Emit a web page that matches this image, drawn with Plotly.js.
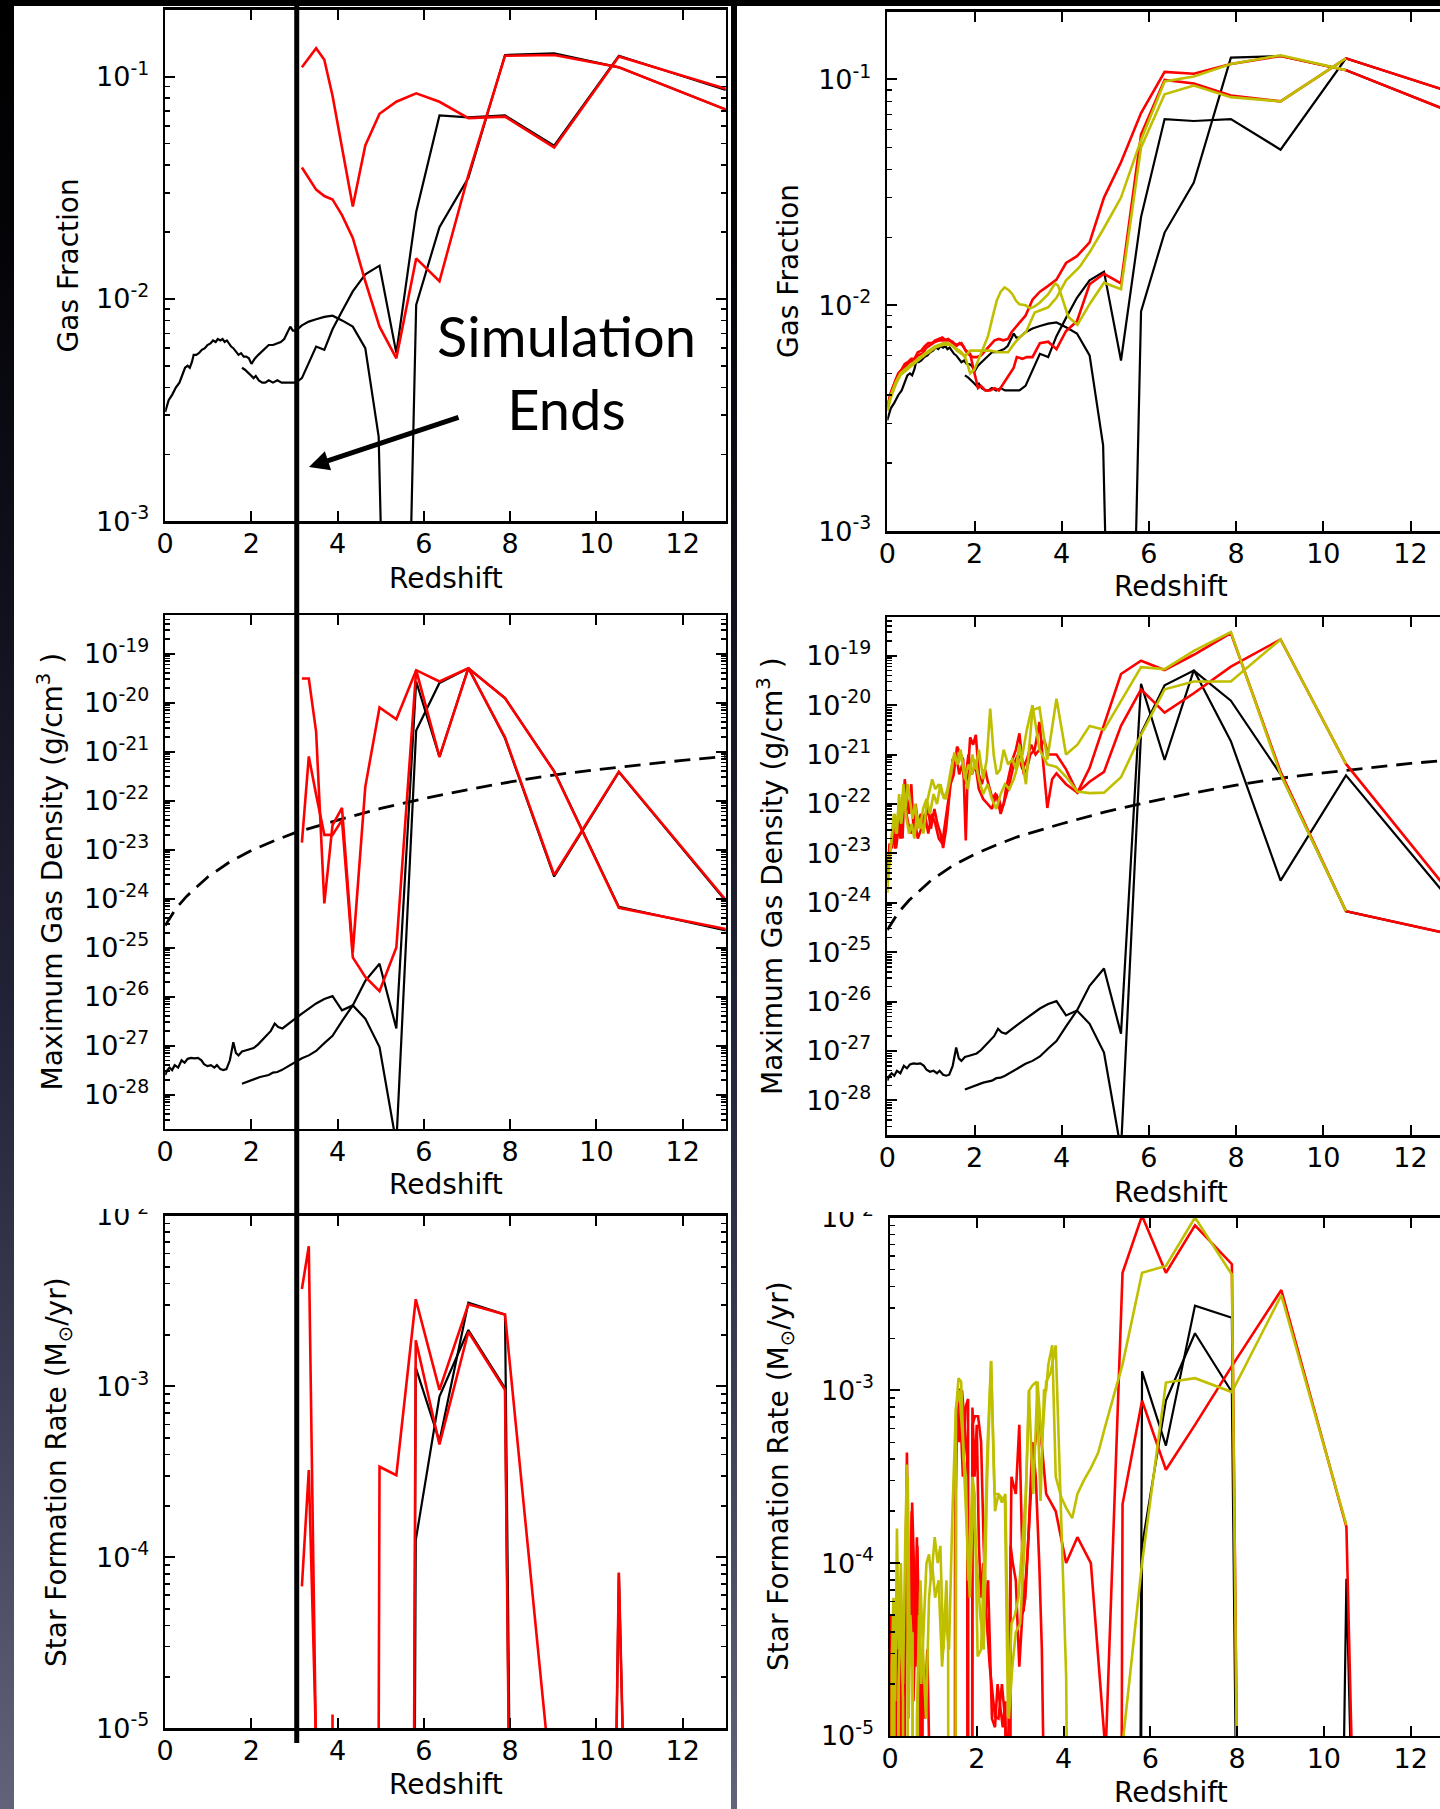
<!DOCTYPE html>
<html>
<head>
<meta charset="utf-8">
<script src="https://cdn.plot.ly/plotly-3.0.1.min.js"></script>
<style>
html,body{margin:0;padding:0;width:1440px;height:1809px;overflow:hidden;}
body{background:linear-gradient(to bottom,#000000 0%,#040408 14%,#12121f 35%,#222236 55%,#3a3a50 75%,#62627a 100%);}
#chart{width:1470px;height:1809px;}
</style>
</head>
<body>
<div id="chart"></div>
<script>
// ---------------- tick label exponents ----------------
const gasTickExp  = [-3, -2, -1];
const densTickExp = [-28, -27, -26, -25, -24, -23, -22, -21, -20, -19];
const sfTickExp   = [-5, -4, -3, -2];
const zTicks      = [0, 2, 4, 6, 8, 10, 12];

// ---------------- Gas fraction (linear values) ----------------
const gasBlackA = [[0,0.0031],[0.08,0.0035],[0.16,0.0037],[0.25,0.0040],[0.33,0.0042],[0.4,0.0046],[0.46,0.0049],[0.52,0.0050],[0.57,0.0049],[0.62,0.0052],[0.66,0.0056],[0.72,0.0056],[0.78,0.0057],[0.85,0.0059],[0.92,0.0060],[0.98,0.0062],[1.05,0.0063],[1.11,0.0065],[1.17,0.0064],[1.22,0.0066],[1.28,0.0065],[1.33,0.0066],[1.38,0.0064],[1.43,0.0065],[1.48,0.0063],[1.53,0.0061],[1.58,0.0060],[1.64,0.0058],[1.7,0.0056],[1.76,0.0057],[1.82,0.0055],[1.88,0.0055],[1.94,0.0054],[2.0,0.0051],[2.08,0.0054],[2.16,0.0056],[2.24,0.0058],[2.32,0.0060],[2.4,0.0062],[2.5,0.0062],[2.6,0.0063],[2.68,0.0064],[2.76,0.0066],[2.83,0.0071],[2.9,0.0075],[2.96,0.0072],[3.03,0.0072],[3.17,0.0076],[3.33,0.0079],[3.5,0.0081],[3.69,0.0083],[3.88,0.0084],[4.1,0.0080],[4.35,0.0075],[4.64,0.0060],[4.95,0.0024],[5.36,0.000001],[5.82,0.0094],[6.36,0.021],[7.03,0.035],[7.88,0.125],[9.02,0.127],[10.52,0.110],[13,0.071]];
const gasBlackB = [[1.78,0.0049],[1.85,0.0048],[1.95,0.0046],[2.05,0.0044],[2.1,0.0045],[2.17,0.0043],[2.25,0.0042],[2.32,0.0042],[2.4,0.0043],[2.5,0.0042],[2.6,0.0043],[2.7,0.0042],[2.8,0.0042],[2.9,0.0042],[3.03,0.0042],[3.17,0.0044],[3.33,0.0052],[3.5,0.0061],[3.69,0.0059],[3.88,0.0073],[4.1,0.0088],[4.35,0.0108],[4.64,0.0129],[4.97,0.0141],[5.36,0.0057],[5.82,0.0246],[6.36,0.0668],[7.03,0.0655],[7.88,0.0668],[9.02,0.0489],[10.52,0.124],[13,0.087]];
const gasRedL1 = [[3.17,0.110],[3.5,0.134],[3.69,0.119],[3.88,0.082],[4.35,0.026],[4.64,0.049],[4.97,0.068],[5.36,0.077],[5.82,0.084],[6.36,0.077],[7.03,0.065],[7.88,0.066],[9.02,0.048],[10.52,0.123],[13,0.088]];
const gasRedL2 = [[3.17,0.039],[3.33,0.035],[3.5,0.031],[3.69,0.029],[3.88,0.028],[4.1,0.0238],[4.35,0.0188],[4.64,0.012],[4.97,0.0075],[5.36,0.0054],[5.82,0.0152],[6.36,0.012],[7.03,0.036],[7.88,0.124],[9.02,0.125],[10.52,0.110],[13,0.071]];
const gasRedR1 = [[0,0.0035],[0.08,0.0041],[0.16,0.0045],[0.25,0.0050],[0.33,0.0052],[0.4,0.0055],[0.47,0.0056],[0.55,0.0058],[0.62,0.0058],[0.7,0.0062],[0.78,0.0063],[0.86,0.0066],[0.94,0.0068],[1.02,0.0068],[1.1,0.0070],[1.18,0.0071],[1.26,0.0072],[1.34,0.0070],[1.42,0.0070],[1.5,0.0069],[1.58,0.0066],[1.66,0.0068],[1.74,0.0066],[1.82,0.0062],[1.9,0.0060],[1.97,0.0059],[2.05,0.0059],[2.15,0.0060],[2.25,0.0063],[2.36,0.0066],[2.46,0.0070],[2.56,0.0071],[2.66,0.0070],[2.77,0.0071],[2.85,0.0076],[2.92,0.0079],[3.03,0.0084],[3.17,0.0090],[3.33,0.0106],[3.5,0.0115],[3.69,0.0122],[3.88,0.0130],[4.1,0.0154],[4.35,0.0165],[4.64,0.019],[4.97,0.030],[5.36,0.043],[5.82,0.071],[6.36,0.108],[7.03,0.106],[7.88,0.117],[9.02,0.127],[10.52,0.110],[13,0.071]];
const gasRedR2 = [[0,0.0036],[0.1,0.0042],[0.2,0.0047],[0.3,0.0051],[0.4,0.0053],[0.5,0.0056],[0.6,0.0057],[0.7,0.0060],[0.8,0.0061],[0.9,0.0065],[1.0,0.0067],[1.1,0.0069],[1.2,0.0070],[1.3,0.0070],[1.4,0.0071],[1.5,0.0068],[1.6,0.0067],[1.7,0.0068],[1.8,0.0063],[1.9,0.0061],[2.0,0.0050],[2.08,0.0043],[2.15,0.0044],[2.25,0.0042],[2.36,0.0042],[2.46,0.0043],[2.56,0.0042],[2.66,0.0045],[2.77,0.0048],[2.9,0.0053],[2.97,0.0059],[3.1,0.0058],[3.2,0.0059],[3.33,0.0059],[3.5,0.0068],[3.69,0.0069],[3.88,0.0064],[4.1,0.0077],[4.35,0.0085],[4.64,0.0124],[4.97,0.0138],[5.36,0.0125],[5.82,0.057],[6.36,0.0996],[7.03,0.096],[7.88,0.085],[9.02,0.080],[10.52,0.124],[13,0.087]];
const gasYelY1 = [[0,0.0035],[0.1,0.0041],[0.2,0.0046],[0.3,0.0050],[0.4,0.0052],[0.5,0.0054],[0.6,0.0056],[0.7,0.0058],[0.8,0.0060],[0.9,0.0062],[1.0,0.0064],[1.1,0.0066],[1.2,0.0067],[1.3,0.0068],[1.4,0.0068],[1.5,0.0066],[1.6,0.0064],[1.7,0.0062],[1.8,0.0058],[1.9,0.0050],[2.0,0.0052],[2.1,0.0058],[2.2,0.0065],[2.31,0.0073],[2.41,0.0088],[2.51,0.0105],[2.6,0.0115],[2.69,0.0120],[2.78,0.0117],[2.87,0.0112],[2.95,0.0105],[3.03,0.0101],[3.17,0.0100],[3.28,0.0097],[3.38,0.0099],[3.5,0.0103],[3.69,0.0112],[3.85,0.0125],[3.92,0.0122],[4.15,0.0089],[4.36,0.0082],[4.65,0.0102],[4.97,0.0126],[5.36,0.0118],[5.82,0.050],[6.36,0.086],[7.03,0.094],[7.88,0.0835],[9.02,0.080],[10.52,0.124]];
const gasYelY2 = [[0,0.0034],[0.1,0.0040],[0.2,0.0045],[0.3,0.0049],[0.4,0.0051],[0.5,0.0053],[0.6,0.0055],[0.7,0.0057],[0.8,0.0059],[0.9,0.0061],[1.0,0.0063],[1.1,0.0065],[1.2,0.0066],[1.3,0.0067],[1.4,0.0067],[1.5,0.0066],[1.6,0.0063],[1.7,0.0061],[1.8,0.0060],[1.9,0.0063],[2.1,0.0063],[2.36,0.0063],[2.55,0.0062],[2.77,0.0062],[2.92,0.0068],[3.03,0.0072],[3.18,0.0076],[3.38,0.0093],[3.69,0.0098],[3.88,0.0108],[4.1,0.0129],[4.41,0.0148],[4.65,0.0173],[4.97,0.022],[5.36,0.030],[5.82,0.054],[6.36,0.098],[7.03,0.103],[7.88,0.117],[9.02,0.128],[10.52,0.110]];

// ---------------- Maximum gas density (log10 g/cm^3) ----------------
const densBlackA = [[0,-27.6],[0.05,-27.5],[0.1,-27.45],[0.16,-27.5],[0.22,-27.4],[0.3,-27.45],[0.38,-27.3],[0.45,-27.35],[0.52,-27.27],[0.6,-27.25],[0.68,-27.26],[0.76,-27.25],[0.84,-27.3],[0.9,-27.38],[0.98,-27.42],[1.06,-27.4],[1.14,-27.45],[1.2,-27.4],[1.28,-27.48],[1.35,-27.5],[1.42,-27.48],[1.5,-27.3],[1.58,-26.93],[1.64,-27.15],[1.7,-27.2],[1.78,-27.12],[1.86,-27.1],[1.95,-27.07],[2.05,-27.05],[2.15,-26.98],[2.25,-26.88],[2.35,-26.8],[2.45,-26.7],[2.54,-26.55],[2.62,-26.62],[2.72,-26.65],[2.82,-26.58],[2.92,-26.5],[3.03,-26.44],[3.17,-26.35],[3.33,-26.25],[3.5,-26.14],[3.69,-26.05],[3.88,-25.99],[4.1,-26.28],[4.35,-26.18],[4.64,-26.45],[4.97,-27.03],[5.36,-29.0],[5.82,-20.57],[6.36,-19.6],[7.03,-19.3],[7.88,-19.91],[9.02,-21.4],[10.52,-24.17],[13,-24.65]];
const densBlackB = [[1.78,-27.78],[1.9,-27.74],[2.0,-27.7],[2.1,-27.68],[2.2,-27.64],[2.3,-27.62],[2.4,-27.6],[2.5,-27.55],[2.6,-27.54],[2.7,-27.5],[2.8,-27.45],[2.9,-27.4],[3.03,-27.34],[3.17,-27.26],[3.33,-27.2],[3.5,-27.11],[3.69,-26.95],[3.88,-26.8],[4.1,-26.5],[4.35,-26.18],[4.64,-25.68],[4.97,-25.33],[5.36,-26.65],[5.82,-19.57],[6.36,-21.11],[7.03,-19.29],[7.88,-20.73],[9.02,-23.55],[10.52,-21.42],[13,-24.05]];
const densDashed = [[0,-24.55],[0.25,-24.2],[0.5,-23.95],[1,-23.55],[1.5,-23.25],[2,-23.02],[2.5,-22.83],[3,-22.66],[4,-22.4],[5,-22.16],[6,-21.96],[7,-21.78],[8,-21.62],[9,-21.48],[10,-21.37],[11,-21.27],[12,-21.18],[13,-21.1]];
const densRedD1 = [[3.17,-19.51],[3.33,-19.51],[3.5,-20.6],[3.69,-24.1],[3.88,-22.5],[4.1,-22.15],[4.35,-25.1],[4.64,-21.72],[4.97,-20.1],[5.36,-20.34],[5.82,-19.34],[6.36,-19.57],[7.03,-19.3],[7.88,-19.91],[9.02,-21.41],[10.52,-24.19],[13,-24.62]];
const densRedD2 = [[3.17,-22.86],[3.33,-21.1],[3.5,-21.88],[3.69,-22.7],[3.88,-22.7],[4.1,-22.4],[4.35,-25.2],[4.64,-25.6],[4.97,-25.89],[5.36,-25.0],[5.82,-19.34],[6.36,-21.11],[7.03,-19.3],[7.88,-20.71],[9.02,-23.52],[10.52,-21.41],[13,-24.03]];
const densRedRD1 = [[0,-23.5],[0.05,-22.8],[0.1,-22.9],[0.15,-22.43],[0.2,-22.9],[0.25,-22.6],[0.3,-22.2],[0.35,-22.7],[0.4,-21.5],[0.45,-21.9],[0.5,-22.2],[0.55,-21.6],[0.6,-22.5],[0.65,-22.0],[0.7,-22.43],[0.77,-22.2],[0.84,-22.5],[0.92,-22.04],[1.0,-22.5],[1.08,-22.1],[1.15,-22.4],[1.22,-22.6],[1.28,-22.89],[1.35,-22.5],[1.45,-21.6],[1.52,-21.42],[1.6,-20.84],[1.66,-20.95],[1.74,-21.1],[1.8,-22.74],[1.84,-21.5],[1.9,-20.65],[1.97,-20.8],[2.03,-20.6],[2.1,-21.4],[2.17,-21.6],[2.24,-21.3],[2.32,-21.6],[2.41,-21.89],[2.48,-21.8],[2.56,-21.9],[2.62,-22.1],[2.67,-22.0],[2.72,-21.7],[2.77,-21.5],[2.87,-21.1],[2.95,-20.9],[3.03,-20.57],[3.13,-21.4],[3.2,-21.3],[3.28,-21.0],[3.38,-20.9],[3.49,-20.34],[3.58,-21.2],[3.67,-22.08],[3.78,-21.5],[3.88,-21.38],[4.1,-21.6],[4.36,-21.77],[4.64,-21.27],[4.97,-20.42],[5.36,-19.37],[5.82,-19.1],[6.36,-19.29],[7.03,-18.98],[7.88,-18.54],[9.02,-21.35],[10.52,-24.17],[13,-24.65]];
const densRedRD2 = [[0,-23.6],[0.06,-23.0],[0.12,-22.6],[0.18,-22.9],[0.24,-22.3],[0.3,-22.7],[0.36,-21.8],[0.42,-22.1],[0.48,-22.4],[0.55,-22.6],[0.62,-22.3],[0.7,-22.7],[0.78,-22.5],[0.86,-22.2],[0.94,-22.6],[1.02,-22.2],[1.1,-22.4],[1.18,-22.7],[1.26,-22.8],[1.34,-22.3],[1.42,-21.8],[1.5,-21.1],[1.58,-21.0],[1.65,-21.4],[1.72,-21.2],[1.78,-21.6],[1.86,-21.0],[1.94,-21.4],[2.02,-21.2],[2.1,-21.7],[2.2,-21.9],[2.3,-22.0],[2.4,-22.1],[2.5,-21.8],[2.6,-22.2],[2.7,-21.9],[2.8,-21.6],[2.9,-21.2],[3.0,-21.0],[3.1,-21.3],[3.2,-21.1],[3.3,-20.8],[3.4,-21.0],[3.49,-20.9],[3.6,-20.7],[3.69,-21.0],[3.88,-21.0],[4.1,-21.3],[4.36,-21.77],[4.64,-21.55],[4.97,-21.35],[5.36,-20.42],[5.82,-19.68],[6.36,-20.15],[7.03,-19.76],[7.88,-19.22],[9.02,-18.67],[10.52,-21.19],[13,-23.9]];
const densYelYD1 = [[0,-23.6],[0.04,-23.2],[0.08,-22.8],[0.12,-22.5],[0.17,-22.2],[0.22,-22.6],[0.27,-21.8],[0.32,-22.3],[0.37,-21.6],[0.42,-22.1],[0.47,-21.6],[0.52,-21.9],[0.58,-22.3],[0.64,-22.0],[0.7,-22.5],[0.76,-22.3],[0.83,-22.6],[0.9,-22.0],[0.97,-21.7],[1.03,-21.5],[1.1,-21.7],[1.18,-21.6],[1.26,-21.8],[1.35,-21.9],[1.44,-21.5],[1.54,-20.96],[1.6,-21.2],[1.68,-20.9],[1.75,-21.3],[1.85,-21.7],[1.95,-21.0],[2.03,-21.3],[2.1,-20.9],[2.2,-21.5],[2.28,-21.1],[2.36,-20.07],[2.44,-21.0],[2.51,-21.4],[2.59,-21.3],[2.67,-20.9],[2.77,-21.2],[2.87,-21.1],[2.95,-21.3],[3.03,-20.8],[3.18,-21.6],[3.33,-20.1],[3.49,-20.05],[3.67,-21.1],[3.88,-19.87],[4.1,-21.0],[4.36,-20.8],[4.64,-20.42],[4.97,-20.5],[5.36,-19.92],[5.82,-19.23],[6.36,-19.27],[7.03,-18.9],[7.88,-18.52],[9.02,-21.4],[10.52,-24.17]];
const densYelYD2 = [[0,-23.8],[0.05,-23.1],[0.1,-22.7],[0.15,-22.2],[0.2,-22.6],[0.26,-22.1],[0.32,-22.4],[0.38,-21.9],[0.44,-22.3],[0.5,-22.6],[0.56,-22.4],[0.62,-22.7],[0.68,-22.2],[0.75,-22.5],[0.82,-22.1],[0.9,-21.9],[0.98,-22.2],[1.06,-21.8],[1.14,-22.0],[1.22,-21.6],[1.3,-21.9],[1.38,-21.7],[1.46,-21.3],[1.54,-21.0],[1.62,-21.2],[1.7,-21.0],[1.78,-21.5],[1.86,-21.2],[1.94,-21.4],[2.02,-21.1],[2.1,-21.5],[2.2,-21.8],[2.3,-21.6],[2.4,-21.9],[2.5,-22.1],[2.6,-21.8],[2.7,-21.6],[2.8,-21.7],[2.9,-21.5],[3.0,-21.2],[3.1,-21.0],[3.2,-20.5],[3.33,-20.0],[3.49,-20.9],[3.67,-21.2],[3.88,-21.25],[4.1,-21.45],[4.36,-21.75],[4.64,-21.78],[4.97,-21.77],[5.36,-21.46],[5.82,-20.6],[6.36,-19.68],[7.03,-19.52],[7.88,-19.52],[9.02,-18.67],[10.52,-21.19]];

// ---------------- Star formation rate (log10 Msun/yr; -30 = none) ----------------
const sfBlackK1 = [[5.36,-30],[5.81,-2.89],[6.36,-3.32],[7.03,-2.51],[7.88,-2.58],[9.02,-30],[13,-30]];
const sfBlackK2 = [[5.36,-30],[5.81,-3.9],[6.36,-3.06],[7.03,-2.67],[7.88,-3.01],[9.02,-30],[10.52,-4.09],[13,-30]];
const sfRedS1 = [[3.17,-2.43],[3.33,-2.18],[3.5,-5.18],[3.69,-30],[4.64,-30],[4.97,-3.47],[5.36,-3.52],[5.81,-2.49],[6.36,-3.02],[7.03,-2.52],[7.88,-2.58],[9.02,-5.5],[10.52,-30],[13,-30]];
const sfRedS2 = [[3.17,-4.17],[3.33,-3.49],[3.5,-5.1],[3.69,-30],[3.88,-4.92],[4.1,-30],[5.36,-30],[5.81,-2.73],[6.36,-3.34],[7.03,-2.68],[7.88,-3.02],[9.02,-30],[10.52,-4.09],[13,-30]];
const sfRedRSa = [[0,-30],[0.04,-4.4],[0.08,-4.9],[0.12,-4.3],[0.16,-4.2],[0.2,-4.8],[0.24,-5.2],[0.28,-4.3],[0.32,-4.7],[0.36,-4.1],[0.39,-3.36],[0.43,-4.3],[0.47,-4.6],[0.51,-3.65],[0.55,-4.0],[0.59,-4.6],[0.63,-3.9],[0.67,-4.4],[0.71,-5.0],[0.75,-4.6],[0.8,-4.9],[0.86,-4.5],[0.92,-5.3],[1.0,-30],[1.45,-30],[1.52,-3.2],[1.6,-2.99],[1.68,-3.5],[1.74,-3.1],[1.8,-3.05],[1.84,-30],[1.9,-3.2],[1.96,-3.15],[2.03,-3.15],[2.1,-3.3],[2.16,-3.9],[2.22,-4.3],[2.3,-4.6],[2.42,-4.89],[2.5,-4.9],[2.58,-4.7],[2.65,-4.9],[2.72,-5.2],[2.8,-3.5],[2.9,-3.6],[2.98,-3.2],[3.08,-4.28],[3.18,-3.9],[3.29,-3.4],[3.44,-3.15],[3.6,-3.6],[3.82,-3.7],[4.06,-4.0],[4.32,-3.85],[4.63,-4.0],[4.97,-5.1],[5.36,-2.32],[5.81,-1.99],[6.36,-2.32],[7.03,-2.045],[7.88,-2.27],[9.02,-30],[13,-30]];
const sfRedRSb = [[0.02,-4.3],[0.06,-30],[0.1,-4.6],[0.14,-4.4],[0.18,-30],[0.22,-4.7],[0.26,-4.5],[0.3,-30],[0.34,-4.9],[0.38,-3.6],[0.42,-4.5],[0.46,-4.2],[0.5,-3.7],[0.54,-4.8],[0.58,-4.4],[0.62,-3.85],[0.66,-4.6],[0.7,-5.2],[0.75,-4.7],[0.8,-30],[0.9,-5.1],[1.0,-30],[1.45,-30],[1.5,-3.8],[1.55,-3.1],[1.6,-3.3],[1.66,-3.0],[1.72,-3.2],[1.78,-3.4],[1.84,-30],[1.9,-3.1],[1.95,-3.5],[2.0,-3.2],[2.05,-3.9],[2.1,-4.2],[2.15,-4.0],[2.2,-4.3],[2.26,-4.1],[2.35,-4.9],[2.42,-4.95],[2.48,-4.7],[2.55,-4.85],[2.6,-4.95],[2.66,-4.8],[2.72,-30],[2.78,-3.9],[2.83,-4.0],[2.9,-4.1],[2.98,-4.6],[3.05,-4.3],[3.12,-4.2],[3.2,-3.8],[3.28,-3.3],[3.36,-3.5],[3.44,-4.0],[3.5,-4.5],[3.6,-30],[5.0,-30],[5.36,-3.66],[5.81,-3.06],[6.36,-3.46],[7.03,-3.2],[7.88,-2.86],[9.02,-2.42],[10.52,-3.79],[13,-30]];
const sfYelYSa = [[0,-30],[0.04,-4.6],[0.08,-4.2],[0.12,-4.8],[0.16,-3.8],[0.2,-4.5],[0.25,-4.0],[0.3,-4.7],[0.35,-3.9],[0.39,-3.43],[0.43,-4.9],[0.47,-4.3],[0.52,-4.6],[0.57,-30],[0.62,-4.9],[0.67,-4.3],[0.72,-4.7],[0.78,-4.3],[0.84,-4.0],[0.9,-3.95],[0.95,-4.1],[1.03,-3.85],[1.1,-4.0],[1.16,-3.9],[1.23,-4.5],[1.3,-4.1],[1.34,-4.5],[1.42,-30],[1.52,-3.12],[1.58,-2.93],[1.64,-2.95],[1.7,-3.39],[1.75,-3.5],[1.8,-4.1],[1.85,-3.9],[1.9,-3.5],[1.95,-3.6],[2.02,-4.54],[2.1,-4.5],[2.18,-3.9],[2.25,-3.3],[2.33,-2.83],[2.41,-3.6],[2.5,-3.6],[2.57,-3.62],[2.65,-3.65],[2.72,-4.89],[2.8,-4.35],[2.88,-4.3],[2.96,-4.2],[3.03,-3.95],[3.13,-3.6],[3.21,-3.0],[3.29,-2.97],[3.38,-2.95],[3.47,-3.64],[3.55,-3.0],[3.6,-3.0],[3.65,-2.85],[3.74,-2.74],[3.82,-3.5],[3.95,-3.62],[4.06,-3.68],[4.2,-3.74],[4.32,-3.6],[4.47,-3.52],[4.63,-3.45],[4.8,-3.36],[4.97,-3.2],[5.36,-2.85],[5.81,-2.32],[6.36,-2.28],[7.03,-2.0],[7.88,-2.33],[9.02,-30],[10.52,-30]];
const sfYelYSb = [[0.02,-30],[0.06,-4.9],[0.1,-4.4],[0.15,-30],[0.2,-4.7],[0.25,-4.2],[0.3,-4.8],[0.36,-30],[0.41,-3.5],[0.46,-4.6],[0.52,-4.4],[0.58,-30],[0.64,-4.8],[0.7,-4.1],[0.76,-4.5],[0.83,-4.9],[0.9,-4.2],[0.97,-4.0],[1.04,-4.2],[1.12,-4.1],[1.2,-4.6],[1.28,-4.3],[1.36,-4.5],[1.44,-3.7],[1.52,-3.1],[1.6,-3.0],[1.68,-3.3],[1.76,-3.8],[1.84,-4.2],[1.92,-3.6],[2.0,-4.0],[2.08,-4.3],[2.16,-4.5],[2.24,-3.5],[2.33,-2.83],[2.42,-3.7],[2.5,-3.6],[2.58,-3.65],[2.66,-3.6],[2.74,-4.9],[2.82,-4.6],[2.9,-4.4],[3.0,-4.35],[3.1,-3.9],[3.2,-3.0],[3.3,-3.6],[3.4,-2.95],[3.5,-3.3],[3.6,-2.95],[3.7,-2.9],[3.82,-2.74],[4.06,-4.65],[4.32,-30],[4.97,-30],[5.36,-5.05],[5.81,-4.0],[6.36,-2.955],[7.03,-2.93],[7.88,-3.01],[9.02,-2.45],[10.52,-3.78]];

// ---------------- layout helpers ----------------
const W = 1470, H = 1809;
const px = x => x / W;
const py = y => 1 - y / H;
const BLACK = '#000000', RED = '#ff0000', YEL = '#bfbf00';
const FONT = 'DejaVu Sans, Verdana, sans-serif';

function tr(pairs, n, color, width, isLog, dash) {
  return {
    type: 'scatter', mode: 'lines',
    x: pairs.map(p => p[0]),
    y: pairs.map(p => isLog ? Math.pow(10, p[1]) : p[1]),
    xaxis: 'x' + (n === 1 ? '' : n), yaxis: 'y' + (n === 1 ? '' : n),
    line: {color: color, width: width, dash: dash || 'solid'},
    hoverinfo: 'skip', showlegend: false
  };
}
function xAxis(x0, x1, n) {
  return {
    domain: [px(x0), px(x1)], range: [0, 13], anchor: 'y' + (n === 1 ? '' : n),
    tickmode: 'array', tickvals: zTicks, ticktext: zTicks.map(String),
    ticks: 'inside', ticklen: 10, tickwidth: 2, tickcolor: BLACK,
    showline: true, linewidth: 2.5, linecolor: BLACK, mirror: 'ticks',
    showgrid: false, zeroline: false, ticklabelstandoff: -3,
    tickfont: {family: FONT, size: 27, color: BLACK}, fixedrange: true
  };
}
function minorVals(lo, hi) {
  const v = [];
  for (let e = Math.floor(lo); e <= Math.ceil(hi); e++) {
    for (let m = 2; m <= 9; m++) {
      const val = m * Math.pow(10, e);
      const l = Math.log10(val);
      if (l > lo && l < hi) v.push(val);
    }
  }
  return v;
}
function yAxis(y0, y1, n, lo, hi, exps) {
  return {
    domain: [py(y1), py(y0)], type: 'log', range: [lo, hi], anchor: 'x' + (n === 1 ? '' : n),
    tickmode: 'array', tickvals: exps.map(e => Math.pow(10, e)),
    ticktext: exps.map(e => '10<sup>' + e + '</sup>'),
    ticks: 'inside', ticklen: 10, tickwidth: 2, tickcolor: BLACK,
    showline: true, linewidth: 2.5, linecolor: BLACK, mirror: 'ticks',
    showgrid: false, zeroline: false, ticklabelstandoff: 8,
    minor: {tickmode: 'array', tickvals: minorVals(lo, hi), ticks: 'inside', ticklen: 5, tickwidth: 1.5, tickcolor: BLACK, showgrid: false},
    tickfont: {family: FONT, size: 27, color: BLACK}, fixedrange: true
  };
}

const GAS = [-3, -0.699], DENS = [-28.7, -18.22], SF = [-5, -2];
const LX = [165.2, 725.8], RX = [887.3, 1454.1], RXB = [890, 1454];

const layout = {
  width: W, height: H,
  margin: {l: 0, r: 0, t: 0, b: 0, pad: 0},
  paper_bgcolor: 'rgba(0,0,0,0)', plot_bgcolor: '#ffffff',
  showlegend: false,
  font: {family: FONT, color: BLACK},
  xaxis:  xAxis(LX[0], LX[1], 1),  yaxis:  yAxis(9.6, 521.2, 1, GAS[0], GAS[1], gasTickExp),
  xaxis2: xAxis(RX[0], RX[1], 2),  yaxis2: yAxis(11.5, 531.2, 2, GAS[0], GAS[1], gasTickExp),
  xaxis3: xAxis(LX[0], LX[1], 3),  yaxis3: yAxis(615.3, 1128.9, 3, DENS[0], DENS[1], densTickExp),
  xaxis4: xAxis(RX[0], RX[1], 4),  yaxis4: yAxis(617.2, 1135.0, 4, DENS[0], DENS[1], densTickExp),
  xaxis5: xAxis(LX[0], LX[1], 5),  yaxis5: yAxis(1215.5, 1728.2, 5, SF[0], SF[1], sfTickExp),
  xaxis6: xAxis(RXB[0], RXB[1], 6), yaxis6: yAxis(1217.5, 1735.9, 6, SF[0], SF[1], sfTickExp),
  shapes: [
    {type: 'rect', xref: 'paper', yref: 'paper', x0: px(14), x1: px(731), y0: 0, y1: py(6), fillcolor: '#ffffff', line: {width: 0}, layer: 'below'},
    {type: 'rect', xref: 'paper', yref: 'paper', x0: px(737), x1: 1, y0: 0, y1: py(6), fillcolor: '#ffffff', line: {width: 0}, layer: 'below'},
    {type: 'rect', xref: 'paper', yref: 'paper', x0: px(60), x1: px(160), y0: py(1209), y1: py(1188), fillcolor: '#ffffff', line: {width: 0}, layer: 'above'},
    {type: 'rect', xref: 'paper', yref: 'paper', x0: px(780), x1: px(884), y0: py(1212), y1: py(1188), fillcolor: '#ffffff', line: {width: 0}, layer: 'above'},
    {type: 'line', xref: 'x', yref: 'paper', x0: 3.05, x1: 3.05, y0: py(1743), y1: 1, line: {color: BLACK, width: 5}, layer: 'above'}
  ],
  annotations: []
};

function ytitle(text, x, y) {
  return {text: text, xref: 'paper', yref: 'paper', x: px(x), y: py(y), xanchor: 'center', yanchor: 'middle',
          textangle: -90, showarrow: false, font: {family: FONT, size: 28, color: BLACK}};
}
function xtitle(x, y) {
  return {text: 'Redshift', xref: 'paper', yref: 'paper', x: px(x), y: py(y), xanchor: 'center', yanchor: 'middle',
          showarrow: false, font: {family: FONT, size: 28, color: BLACK}};
}
const densTitle = 'Maximum Gas Density (g/cm<sup>3</sup> )';
const sfTitle = 'Star Formation Rate (M<sub>⊙</sub>/yr)';
layout.annotations.push(
  ytitle('Gas Fraction', 68, 265.4), ytitle('Gas Fraction', 789, 271),
  ytitle(densTitle, 50.5, 872), ytitle(densTitle, 770, 876),
  ytitle(sfTitle, 58, 1472), ytitle(sfTitle, 780, 1476),
  xtitle(445.5, 578), xtitle(1171, 587),
  xtitle(445.5, 1184), xtitle(1171, 1192),
  xtitle(445.5, 1784.5), xtitle(1171, 1792),
  {text: 'Simulation<br>Ends', xref: 'paper', yref: 'paper', x: px(566), y: py(372), xanchor: 'center', yanchor: 'middle',
   showarrow: false, align: 'center', font: {family: 'Lato, Open Sans, sans-serif', size: 56, color: BLACK}},
  {text: '', xref: 'paper', yref: 'paper', x: px(309), y: py(467), axref: 'pixel', ayref: 'pixel', ax: 151, ay: -50,
   showarrow: true, arrowhead: 2, arrowsize: 0.8, arrowwidth: 5, arrowcolor: BLACK}
);

const LW_K = 2.2, LW_C = 2.6;
const data = [
  // top-left
  tr(gasBlackA, 1, BLACK, LW_K), tr(gasBlackB, 1, BLACK, LW_K),
  tr(gasRedL1, 1, RED, LW_C), tr(gasRedL2, 1, RED, LW_C),
  // top-right
  tr(gasBlackA, 2, BLACK, LW_K), tr(gasBlackB, 2, BLACK, LW_K),
  tr(gasRedR1, 2, RED, LW_C), tr(gasRedR2, 2, RED, LW_C),
  tr(gasYelY1, 2, YEL, LW_C), tr(gasYelY2, 2, YEL, LW_C),
  // middle-left
  tr(densBlackA, 3, BLACK, LW_K, true), tr(densBlackB, 3, BLACK, LW_K, true),
  tr(densDashed, 3, BLACK, 2.8, true, '16px,9px'),
  tr(densRedD1, 3, RED, LW_C, true), tr(densRedD2, 3, RED, LW_C, true),
  // middle-right
  tr(densBlackA, 4, BLACK, LW_K, true), tr(densBlackB, 4, BLACK, LW_K, true),
  tr(densDashed, 4, BLACK, 2.8, true, '16px,9px'),
  tr(densRedRD1, 4, RED, LW_C, true), tr(densRedRD2, 4, RED, LW_C, true),
  tr(densYelYD1, 4, YEL, LW_C, true), tr(densYelYD2, 4, YEL, LW_C, true),
  // bottom-left
  tr(sfBlackK1, 5, BLACK, LW_K, true), tr(sfBlackK2, 5, BLACK, LW_K, true),
  tr(sfRedS1, 5, RED, LW_C, true), tr(sfRedS2, 5, RED, LW_C, true),
  // bottom-right
  tr(sfBlackK1, 6, BLACK, LW_K, true), tr(sfBlackK2, 6, BLACK, LW_K, true),
  tr(sfRedRSa, 6, RED, LW_C, true), tr(sfRedRSb, 6, RED, LW_C, true),
  tr(sfYelYSa, 6, YEL, LW_C, true), tr(sfYelYSb, 6, YEL, LW_C, true)
];

Plotly.newPlot('chart', data, layout, {staticPlot: true, displayModeBar: false, responsive: false});
</script>
</body>
</html>
